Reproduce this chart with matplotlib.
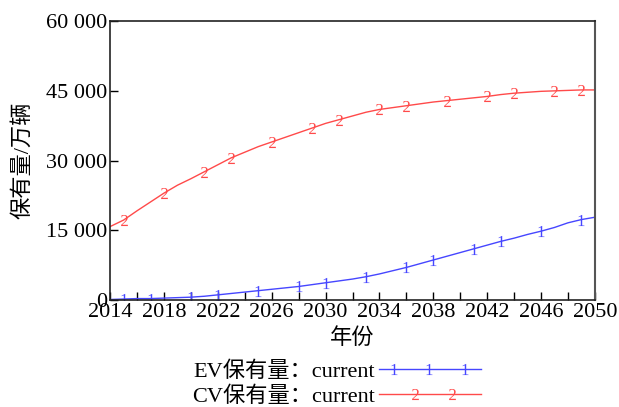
import matplotlib
matplotlib.use("Agg")
import matplotlib.pyplot as plt
from matplotlib.ticker import FuncFormatter, FixedLocator
from matplotlib.legend_handler import HandlerLine2D
import numpy as np

plt.rcParams['font.family'] = ['Liberation Serif', 'Noto Sans CJK SC']
plt.rcParams['mathtext.fontset'] = 'custom'
plt.rcParams['mathtext.rm'] = 'Liberation Serif'
plt.rcParams['mathtext.it'] = 'Liberation Serif'

years = list(range(2014, 2051))
cv = [15.8, 17.2, 19.2, 21.1, 23.0, 24.7, 26.1, 27.6, 29.1, 30.6, 31.8, 33.0, 34.0,
      35.0, 36.0, 37.0, 38.0, 38.8, 39.6, 40.4, 41.0, 41.4, 41.8, 42.2, 42.6, 42.9,
      43.2, 43.5, 43.8, 44.2, 44.5, 44.7, 44.9, 45.0, 45.1, 45.2, 45.2]
ev = [0.1, 0.2, 0.3, 0.3, 0.4, 0.5, 0.6, 0.8, 1.1, 1.4, 1.7, 2.0, 2.3, 2.6, 2.9,
      3.3, 3.7, 4.1, 4.5, 5.0, 5.6, 6.3, 7.0, 7.8, 8.6, 9.4, 10.2, 11.0, 11.8, 12.6,
      13.3, 14.1, 14.8, 15.6, 16.6, 17.3, 17.8]
cv = [v * 1000 for v in cv]
ev = [v * 1000 for v in ev]
cv_marker_years = [2015, 2018, 2021, 2023, 2026, 2029, 2031, 2034, 2036, 2039, 2042, 2044, 2047, 2049]
ev_marker_years = [2015, 2017, 2020, 2022, 2025, 2028, 2030, 2033, 2036, 2038, 2041, 2043, 2046, 2049]
x_major = list(range(2014, 2051, 4))
x_minor = list(range(2014, 2051, 2))
y_major = [0, 15000, 30000, 45000, 60000]

label_ev = "EV保有量：current"
label_cv = "CV保有量：current"
xlabel = "年份"
ylabel = "保有量/万辆"

blue = "#4646ff"
red = "#ff4a4a"


class InnerMarkers(HandlerLine2D):
    def __init__(self, fracs, **kw):
        super().__init__(numpoints=len(fracs) + 2, **kw)
        self.fracs = list(fracs)

    def get_xdata(self, legend, xdescent, ydescent, width, height, fontsize):
        fr = np.array([0.0] + self.fracs + [1.0])
        xdata = -xdescent + width * fr
        return xdata, xdata

    def update_prop(self, legend_handle, orig_handle, legend):
        super().update_prop(legend_handle, orig_handle, legend)
        legend_handle.set_markevery(list(range(1, len(self.fracs) + 1)))


fig = plt.figure(figsize=(6.19, 4.07), dpi=100)
ax = fig.add_axes([0.178, 0.263, 0.783, 0.685])

ev_idx = [years.index(y) for y in ev_marker_years]
cv_idx = [years.index(y) for y in cv_marker_years]
l_ev, = ax.plot(years, ev, color=blue, lw=1.0, marker="$1$", markersize=8,
                markeredgewidth=0, markevery=ev_idx, label=label_ev)
l_cv, = ax.plot(years, cv, color=red, lw=1.0, marker="$2$", markersize=8,
                markeredgewidth=0, markevery=cv_idx, label=label_cv)

ax.set_xlim(2014, 2050)
ax.set_ylim(0, 60000)
ax.xaxis.set_major_locator(FixedLocator(x_major))
ax.xaxis.set_minor_locator(FixedLocator(x_minor))
ax.yaxis.set_major_locator(FixedLocator(y_major))
ax.yaxis.set_major_formatter(FuncFormatter(lambda v, p: f"{int(v):,}".replace(",", " ")))
ax.tick_params(axis='both', which='both', direction='in', top=False, right=False,
               labelsize=16, length=6, width=1, pad=2)
for s in ['left', 'bottom', 'top']:
    ax.spines[s].set_linewidth(1.2)
    ax.spines[s].set_color('#222222')
ax.spines['right'].set_linewidth(1.5)
ax.spines['right'].set_color('#555555')

ax.set_xlabel(xlabel, fontsize=16, labelpad=5)
ax.set_ylabel(ylabel, fontsize=16, labelpad=9)

leg = fig.legend(handles=[l_ev, l_cv], loc='upper left', bbox_to_anchor=(0.310, 0.112),
                 frameon=False, fontsize=16, handlelength=4.6, handletextpad=0.2,
                 markerfirst=False, labelspacing=0.2, borderpad=0, borderaxespad=0,
                 handler_map={l_ev: InnerMarkers([0.14, 0.49, 0.84]),
                              l_cv: InnerMarkers([0.35, 0.71])})

fig.savefig("out.png", dpi=100)
